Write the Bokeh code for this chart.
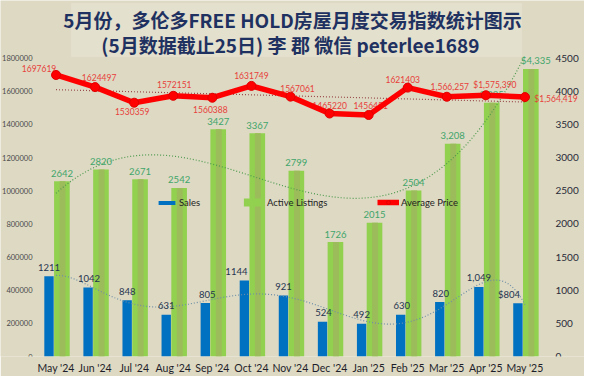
import numpy as np
from bokeh.plotting import figure
from bokeh.models import (Range1d, LinearAxis, FixedTicker, BasicTickFormatter,
                          ColumnDataSource, Legend, LegendItem, Label, BoxAnnotation)
from bokeh.transform import dodge
from bokeh.embed import file_html
from bokeh.resources import INLINE

# ---------------- data ----------------
months = ["May '24", "Jun '24", "Jul '24", "Aug '24", "Sep '24", "Oct '24", "Nov '24",
          "Dec '24", "Jan '25", "Feb '25", "Mar '25", "Apr '25", "May '25"]
sales = [1211, 1042, 848, 631, 805, 1144, 921, 524, 492, 630, 820, 1049, 804]
listings = [2642, 2820, 2671, 2542, 3427, 3367, 2799, 1726, 2015, 2504, 3208, 3825, 4335]
avg_price = [1697619, 1624497, 1530359, 1572151, 1560388, 1631749, 1567061,
             1465220, 1456451, 1621403, 1566257, 1575390, 1564419]
sales_text = ["1211", "1042", "848", "631", "805", "1144", "921", "524", "492", "630",
              "820", "1,049", "$804"]
listing_text = ["2642", "2820", "2671", "2542", "3427", "3367", "2799", "1726", "2015",
                "2504", "3,208", "3,825", "$4,335"]
price_text = ["1697619", "1624497", "1530359", "1572151", "1560388", "1631749", "1567061",
              "1465220", "1456451", "1621403", "1,566,257", "$1,575,390", "$1,564,419"]
left_ticks = [0, 200000, 400000, 600000, 800000, 1000000, 1200000, 1400000, 1600000, 1800000]
right_ticks = [0, 500, 1000, 1500, 2000, 2500, 3000, 3500, 4000, 4500]
title1 = "5月份，多伦多FREE HOLD房屋月度交易指数统计图示"
title2 = "(5月数据截止25日) 李 郡  微信 peterlee1689"

# ---------------- layout ----------------
W, H = 584, 376
PL, PR = 36, 544              # pixel columns of the plotting area edges
BB = 20
FH = H - BB
TOP_TICK_PX = 57.5            # pixel row of the 4500 / 1800000 ticks
YL_MAX = 1800000 * FH / (FH - TOP_TICK_PX)
YR_MAX = 4500 * FH / (FH - TOP_TICK_PX)
N = len(months)
UNIT_PX = (PR - PL) / N

def px2x(px):
    return (px - PL) / UNIT_PX - 0.5

def py2yl(py):
    return (FH - py) / FH * YL_MAX

SALES_SHIFT, LIST_SHIFT = -0.18, 0.15

# per-label pixel nudges (layout only; positive dy = up)
price_dx = [-17, 4, -2, 1, -2, 0, 7, 0, 2, -5, 3, 9, 31]
price_dy = [6, 10, -9, 11, -12, 10, 8, 8, 9, 8, 10, 10, -2]
sales_dx = [0, 1, 0, 0, 2, -8, 0, 1, 0, 1, 1, 0, -9]
list_dx = [0] * 12 + [5]

BG = "#DDD9C3"
p = figure(width=W, height=H, output_backend="svg", toolbar_location=None, title=None,
           x_range=Range1d(px2x(0), px2x(W)), y_range=Range1d(0, YL_MAX),
           min_border_left=0, min_border_right=0, min_border_top=0, min_border_bottom=BB,
           background_fill_color=BG, border_fill_color=BG, outline_line_color=None)
p.extra_y_ranges = {"right": Range1d(0, YR_MAX)}
p.xgrid.visible = False
p.ygrid.visible = False

src = ColumnDataSource(dict(x=list(range(N)), sales=sales, listings=listings,
                            price=avg_price))

# bars
r_sales = p.vbar(x=dodge("x", SALES_SHIFT, range=p.x_range), top="sales", width=0.24, source=src,
                 fill_color="#0070C0", line_color=None, y_range_name="right")
r_list = p.vbar(x=dodge("x", LIST_SHIFT, range=p.x_range), top="listings", width=0.40, source=src,
                fill_color="#92D050", line_color=None, y_range_name="right")
p.vbar(x=dodge("x", LIST_SHIFT + 0.015, range=p.x_range), top="listings", width=0.15, source=src,
       fill_color="#9CBB5A", line_color=None, y_range_name="right")

# trend lines (least-squares fits of the series, like the spreadsheet trendlines)
xs = np.linspace(0, N - 1, 241)
xi = np.arange(N)
list_fit = np.polyval(np.polyfit(xi, listings, 3), xs)
sales_fit = np.polyval(np.polyfit(xi, sales, 6), xs)
price_fit = np.polyval(np.polyfit(xi, avg_price, 1), xs)
p.line(xs, sales_fit, line_color="#6F8FA8", line_width=1.2, line_dash="1 2", y_range_name="right")
p.line(xs, list_fit, line_color="#4E9A4E", line_width=1.2, line_dash="1 2", y_range_name="right")
p.line(xs, price_fit, line_color="#9A4A4A", line_width=1.2, line_dash="1 2")

# data labels
def add_labels(vals, texts, shift, dxs, dys, rng, size, color):
    for i, (v, t) in enumerate(zip(vals, texts)):
        kw = dict(y_range_name=rng) if rng else {}
        p.add_layout(Label(x=i, y=v, text=t, x_offset=dxs[i] + shift * UNIT_PX,
                           y_offset=dys[i], text_align="center", text_baseline="middle",
                           text_font="Lato", text_font_size=size, text_color=color, **kw))

add_labels(sales, sales_text, SALES_SHIFT, sales_dx, [9] * N, "right", "9.5px", "#25344F")
add_labels(listings, listing_text, LIST_SHIFT, list_dx, [8] * N, "right", "9.5px", "#3FA56A")
add_labels(avg_price, price_text, 0.0, price_dx, price_dy, None, "8.5px", "#E8403A")

# price line drawn above the labels
r_pl = p.line("x", "price", source=src, line_color="#FF0000", line_width=5.5, level="overlay")
r_pm = p.scatter("x", "price", source=src, size=9, fill_color="#FF0000", line_color="#E00000",
                 level="overlay")

# axes
p.xaxis.ticker = FixedTicker(ticks=list(range(N)))
p.xaxis.major_label_overrides = {i: m for i, m in enumerate(months)}
p.yaxis.ticker = FixedTicker(ticks=left_ticks)
p.yaxis.formatter = BasicTickFormatter(use_scientific=False)
p.yaxis.fixed_location = px2x(PL)
ra = LinearAxis(y_range_name="right", ticker=FixedTicker(ticks=right_ticks),
                fixed_location=px2x(PR))
p.add_layout(ra, "right")
for ax in [p.xaxis[0], p.yaxis[0], ra]:
    ax.axis_line_color = None
    ax.major_tick_line_color = None
    ax.minor_tick_line_color = None
    ax.major_tick_out = 0
    ax.major_tick_in = 0
    ax.major_label_text_font = "Lato"
p.xaxis.major_label_text_font_size = "10.5px"
p.xaxis.major_label_text_color = "#1E1E2A"
p.xaxis.major_label_standoff = 5
p.yaxis.major_label_text_font_size = "7.5px"
p.yaxis.major_label_text_color = "#4A4A4A"
p.yaxis.major_label_standoff = 4
ra.major_label_text_font_size = "10px"
ra.major_label_text_color = "#2A2A38"
ra.major_label_standoff = 11

# legends
def add_legend(label, renderers, xpx, gw, gh):
    lg = Legend(items=[LegendItem(label=label, renderers=renderers)],
                location=(xpx, FH - 202 - 6), orientation="horizontal",
                padding=0, margin=0, spacing=0, label_standoff=2,
                glyph_width=gw, glyph_height=gh, label_height=12,
                background_fill_alpha=0, border_line_color=None,
                label_text_font="Lato", label_text_font_size="9.5px",
                label_text_color="#222222")
    p.add_layout(lg)

add_legend("Sales", [r_sales], 156, 21, 5)
add_legend("Active Listings", [r_list], 241, 24, 10)
add_legend("Average Price", [r_pl, r_pm], 377, 22, 10)

# title box
p.add_layout(BoxAnnotation(left=px2x(71), right=px2x(521), top=py2yl(3), bottom=py2yl(56),
                           fill_color="#E3E0CD", fill_alpha=1.0,
                           line_color="#ECE9D8", line_width=1.5))
for txt, py in [(title1, 19), (title2, 44)]:
    p.add_layout(Label(x=px2x(292), y=py2yl(py), text=txt, text_align="center",
                       text_baseline="middle", text_font="Noto Sans CJK SC",
                       text_font_style="bold", text_font_size="19px",
                       text_color="#1F3160"))

open("out.html", "w").write(file_html(p, INLINE))
